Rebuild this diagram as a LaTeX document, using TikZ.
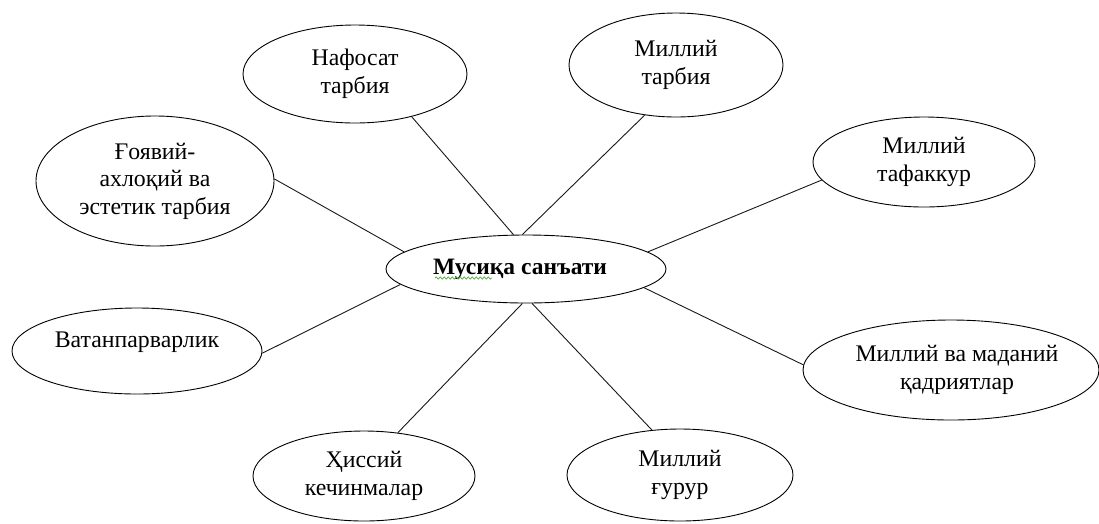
\documentclass[tikz,border=0pt]{standalone}
\usepackage{fontspec}
\setmainfont{Liberation Serif}
\usetikzlibrary{shapes.geometric,decorations.pathmorphing}
\definecolor{squiggle}{RGB}{80,170,60}
\begin{document}
\begin{tikzpicture}[x=1pt,y=-1pt,
  bubble/.style={draw=black, line width=0.9pt, ellipse, inner sep=0pt, align=center,
    font=\fontsize{23.8}{27.5}\selectfont},
  link/.style={draw=black!90, line width=0.9pt}]
\useasboundingbox (0,0) rectangle (1099,523);
\fill[white] (0,0) rectangle (1099,523);
\node[bubble, minimum width=280, minimum height=68, font=\fontsize{23.5}{27}\selectfont\bfseries] (music) at (526,269) {\hspace*{-12pt}Мусиқа санъати};
\node[bubble, minimum width=224, minimum height=98] (nafosat) at (355,74) {Нафосат\\тарбия};
\node[bubble, minimum width=214, minimum height=104] (mtarbiya) at (676,65) {Миллий\\тарбия};
\node[bubble, minimum width=222, minimum height=90] (tafakkur) at (924,162) {Миллий\\тафаккур};
\node[bubble, minimum width=238, minimum height=130] (goyaviy) at (155,181) {Ғоявий-\\ахлоқий ва\\эстетик тарбия};
\node[bubble, minimum width=250, minimum height=86] (vatan) at (137,351) {\raisebox{4pt}[0pt][0pt]{Ватанпарварлик}};
\node[bubble, minimum width=296, minimum height=100] (madaniy) at (951,370) {\hspace*{6pt}Миллий ва маданий\hspace*{-6pt}\\\hspace*{6pt}қадриятлар\hspace*{-6pt}};
\node[bubble, minimum width=222, minimum height=90] (hissiy) at (364,476) {Ҳиссий\\кечинмалар};
\node[bubble, minimum width=226, minimum height=92] (gurur) at (680,475) {Миллий\\ғурур};
\draw[link] (nafosat.-37) -- (music.110.9);
\draw[link] (mtarbiya.-122.4) -- (music.96.7);
\draw[link] (tafakkur.-170.9) -- (music.8.1);
\draw[link] (goyaviy.1) -- (music.172.1);
\draw[link] (vatan.-1.8) -- (music.-173.6);
\draw[link] (madaniy.178) -- (music.-9.3);
\draw[link] (hissiy.52.3) -- (music.-96.7);
\draw[link] (gurur.122.5) -- (music.-80);
\draw[squiggle, line width=0.7pt, decorate, decoration={snake, amplitude=1.1pt, segment length=4pt}]
  ([xshift=-91pt,yshift=-9pt]music.center) -- ([xshift=-34pt,yshift=-9pt]music.center);
\end{tikzpicture}
\end{document}
